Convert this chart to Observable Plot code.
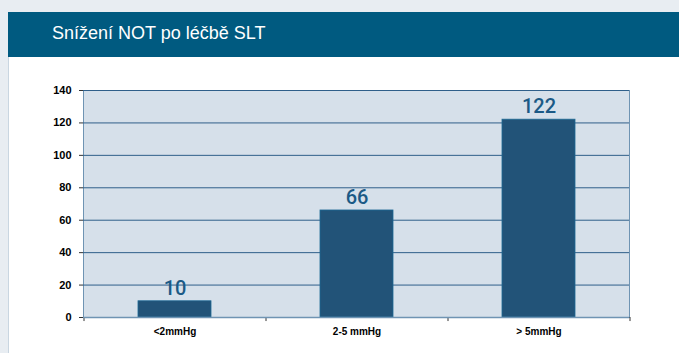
<!DOCTYPE html>
<html>
<head>
<meta charset="utf-8">
<script src="https://cdn.jsdelivr.net/npm/d3@7"></script>
<script src="https://cdn.jsdelivr.net/npm/@observablehq/plot@0.6"></script>
<style>
  html, body { margin: 0; padding: 0; }
  body { width: 679px; height: 353px; background: #e8edf2; position: relative; overflow: hidden; font-family: "Liberation Sans", Arial, sans-serif; }
  #card { position: absolute; left: 8px; top: 12px; width: 671px; height: 341px; background: #fff; border-left: 1px solid #c9d6e1; }
  #header { position: absolute; left: 8px; top: 12px; width: 671px; height: 45px; background: #005a80; }
  #title { position: absolute; left: 52px; top: 23px; color: #fff; font-size: 18px; font-family: "Liberation Sans", Arial, sans-serif; }
  #chart { position: absolute; left: 0; top: 70px; }
</style>
</head>
<body>
<div id="card"></div>
<div id="header"></div>
<div id="title">Snížení NOT po léčbě SLT</div>
<div id="chart"></div>
<script>
const categories = ["<2mmHg", "2-5 mmHg", "> 5mmHg"];
const values = [10, 66, 122];
const yTicks = [0, 20, 40, 60, 80, 100, 120, 140];

const data = categories.map((c, i) => ({category: c, value: values[i]}));
const W = 679, H = 283, mL = 83, mR = 50;
const step = (W - mL - mR) / categories.length;

const chart = Plot.plot({
  width: W,
  height: H,
  marginLeft: mL,
  marginRight: mR,
  marginTop: 20,
  marginBottom: 36,
  style: {fontFamily: "Liberation Sans, Arial, sans-serif", background: "transparent"},
  x: {domain: categories, paddingInner: 0.6, paddingOuter: 0.3, label: null},
  y: {domain: [0, 140], ticks: yTicks, label: null},
  marks: [
    Plot.frame({fill: "#d6e0ea", stroke: "#6f94b3", strokeWidth: 1}),
    Plot.ruleY(yTicks.filter(d => d > 0), {stroke: "#2f5f8a", strokeWidth: 1}),
    Plot.barY(data, {x: "category", y: "value", fill: "#225378", stroke: "#1d6a95", strokeWidth: 0.8}),
    Plot.text(data, {x: "category", y: "value", text: d => String(d.value), dy: -13, fill: "#1b5a86", fontSize: 20, fontFamily: "Roboto, Liberation Sans, sans-serif", fontWeight: 500}),
    Plot.ruleX(categories, {x: d => d, dx: -step / 2, y1: 0, y2: -2.5, stroke: "#333"}),
    Plot.ruleX([categories[categories.length - 1]], {x: d => d, dx: step / 2, y1: 0, y2: -2.5, stroke: "#333"}),
    Plot.ruleY([0], {stroke: "#6f94b3", strokeWidth: 1.5}),
    Plot.axisY({ticks: yTicks, tickSize: 4, tickPadding: 8, fontSize: 11, fontWeight: "bold", stroke: "#333", fill: "#000"}),
    Plot.axisX({tickSize: 0, tickPadding: 10, fontSize: 10, fontWeight: "bold", fill: "#000"}),
    Plot.ruleX([0], {frameAnchor: "left", stroke: "#6f94b3"})
  ]
});
document.getElementById("chart").appendChild(chart);
</script>
</body>
</html>
